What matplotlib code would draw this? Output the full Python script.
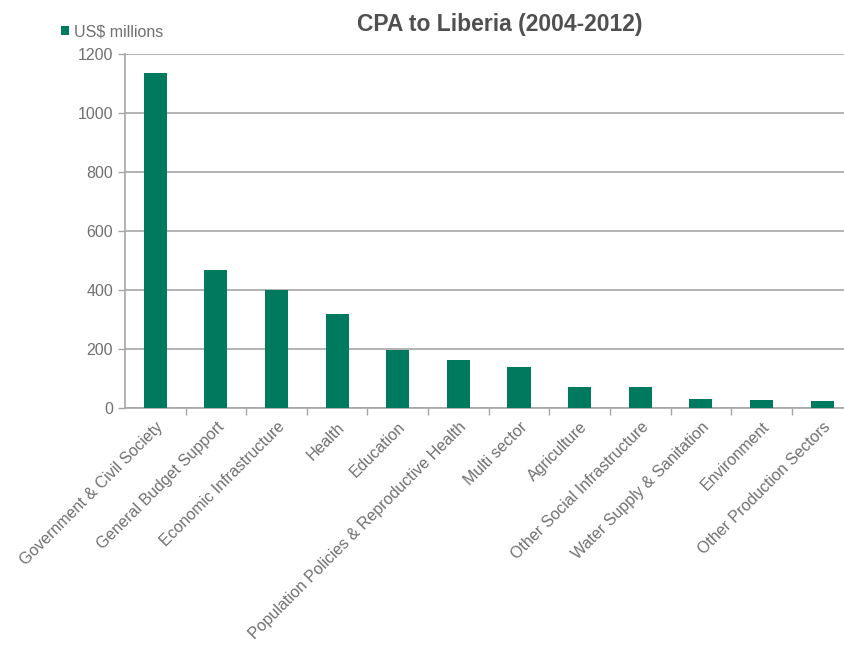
import numpy as np
import matplotlib.pyplot as plt
from matplotlib.transforms import offset_copy

# Données
categories = ['Government & Civil Society', 'General Budget Support', 'Economic Infrastructure',
              'Health', 'Education', 'Population Policies & Reproductive Health', 'Multi sector',
              'Agriculture', 'Other Social Infrastructure', 'Water Supply & Sanitation',
              'Environment', 'Other Production Sectors']
valeurs = [1135, 467, 401, 318, 198, 162, 140, 70, 70, 31, 27, 23]
yticks = [0, 200, 400, 600, 800, 1000, 1200]

vert = '#007a5e'
gris_txt = '#707070'
gris_ligne = '#a6a6a6'

plt.rcParams['font.family'] = ['Liberation Sans', 'DejaVu Sans']

fig = plt.figure(figsize=(8.44, 6.49), dpi=100)
ax = fig.add_axes([0.148, 0.3713, 0.862, 0.5455])

x = np.arange(len(categories))
ax.bar(x, valeurs, width=0.38, color=vert, zorder=3, label='US$ millions')

ax.set_xlim(-0.5, len(categories) - 0.5)
ax.set_ylim(0, 1200)
ax.set_yticks(yticks)
ax.yaxis.grid(True, color=gris_ligne, linewidth=1.2, zorder=0)
ax.tick_params(axis='y', colors=gris_ligne, labelcolor=gris_txt, labelsize=11.5, length=5, width=1)

# ticks entre les catégories
ax.set_xticks(x[:-1] + 0.5, minor=True)
ax.set_xticks(x)
ax.set_xticklabels([])
ax.tick_params(axis='x', which='major', length=0)
ax.tick_params(axis='x', which='minor', colors=gris_ligne, length=5, width=1)

for s in ['top', 'right']:
    ax.spines[s].set_visible(False)
ax.spines['left'].set_color(gris_ligne)
ax.spines['bottom'].set_color(gris_ligne)
ax.spines['left'].set_linewidth(1.2)
ax.spines['bottom'].set_linewidth(1.2)

# étiquettes inclinées
trans = offset_copy(ax.get_xaxis_transform(), fig=fig, x=4, y=-12, units='points')
for i, lab in enumerate(categories):
    ax.text(i, 0, lab, rotation=45, ha='right', va='center', rotation_mode='anchor',
            transform=trans, fontsize=11.5, color=gris_txt)

fig.text(0.592, 0.962, 'CPA to Liberia (2004-2012)', ha='center', va='center',
         fontsize=16.5, fontweight='bold', color='#505050')

leg = fig.legend(loc='upper left', bbox_to_anchor=(0.055, 0.985), frameon=False,
                 handlelength=0.5, handleheight=0.5, handletextpad=0.3, fontsize=11.5)
for t in leg.get_texts():
    t.set_color(gris_txt)

fig.savefig('out.png', dpi=100)
